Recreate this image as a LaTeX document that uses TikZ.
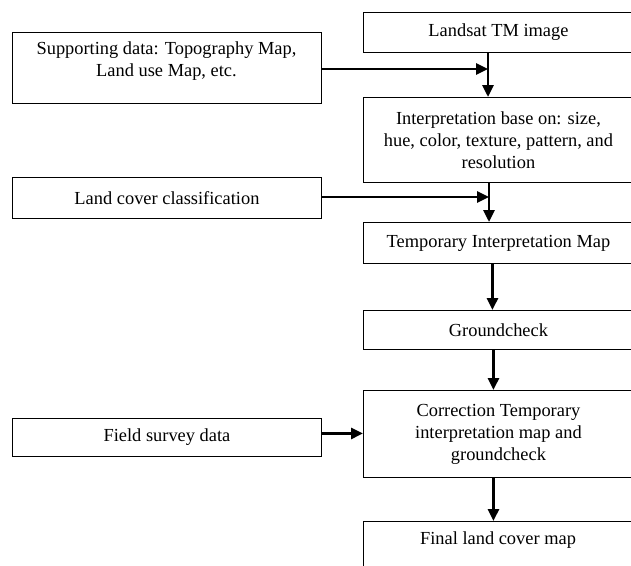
\documentclass[tikz,border=0pt]{standalone}
\usepackage{fontspec}
\setmainfont{Liberation Serif}
\usetikzlibrary{arrows.meta}
\begin{document}
\begin{tikzpicture}[x=1pt,y=-1pt,
  box/.style={draw, line width=0.9pt, inner sep=0pt, anchor=north west, align=center,
    font=\fontsize{18.4pt}{22pt}\selectfont},
  txt/.style={inner sep=0pt, align=center, font=\fontsize{18.4pt}{22pt}\selectfont},
  flow/.style={line width=2.8pt, -{Triangle[length=12pt,width=11pt]}}]
\useasboundingbox (0,0) rectangle (631,565);
\clip (0,0) rectangle (631,565);
% right column
\node[box, minimum width=270pt, minimum height=40pt] (b1) at (363,12) {Landsat TM image};
\node[box, minimum width=270pt, minimum height=85pt] (b2) at (363,97)
  {Interpretation base on: size,\\hue, color, texture, pattern, and\\resolution};
\node[box, minimum width=270pt, minimum height=41pt] (b3) at (363,222) {Temporary Interpretation Map};
\node[box, minimum width=270pt, minimum height=39pt] (b4) at (363,310) {Groundcheck};
\node[box, minimum width=270pt, minimum height=87pt] (b5) at (363,390)
  {Correction Temporary\\interpretation map and\\groundcheck};
\node[box, minimum width=270pt, minimum height=80pt] (b6) at (363,521) {};
\node[txt] (t6) at (498,540) {Final land cover map};
% left column
\node[box, minimum width=309pt, minimum height=71pt] (l1) at (12,32) {};
\node[txt] (t1) at (166.5,61) {Supporting data: Topography Map,\\Land use Map, etc.};
\node[box, minimum width=309pt, minimum height=41pt] (l2) at (12,177) {Land cover classification};
\node[box, minimum width=309pt, minimum height=38pt] (l3) at (12,418) {Field survey data};
% connectors
\coordinate (j1) at (488,69);
\coordinate (j2) at (489,197);
\draw[flow] (b1.south -| j1) -- (b2.north -| j1);
\draw[flow] (l1.east |- j1) -- (j1);
\draw[flow] (b2.south -| j2) -- (b3.north -| j2);
\draw[flow] (l2.east |- j2) -- (j2);
\draw[flow] ([xshift=-6pt]b3.south) -- ([xshift=-6pt]b4.north);
\draw[flow] ([xshift=-5pt]b4.south) -- ([xshift=-5pt]b5.north);
\draw[flow] ([yshift=4pt]l3.east) -- ([yshift=4pt]l3.east -| b5.west);
\draw[flow] ([xshift=-5pt]b5.south) -- ([xshift=-5pt]b6.north);
\end{tikzpicture}
\end{document}
